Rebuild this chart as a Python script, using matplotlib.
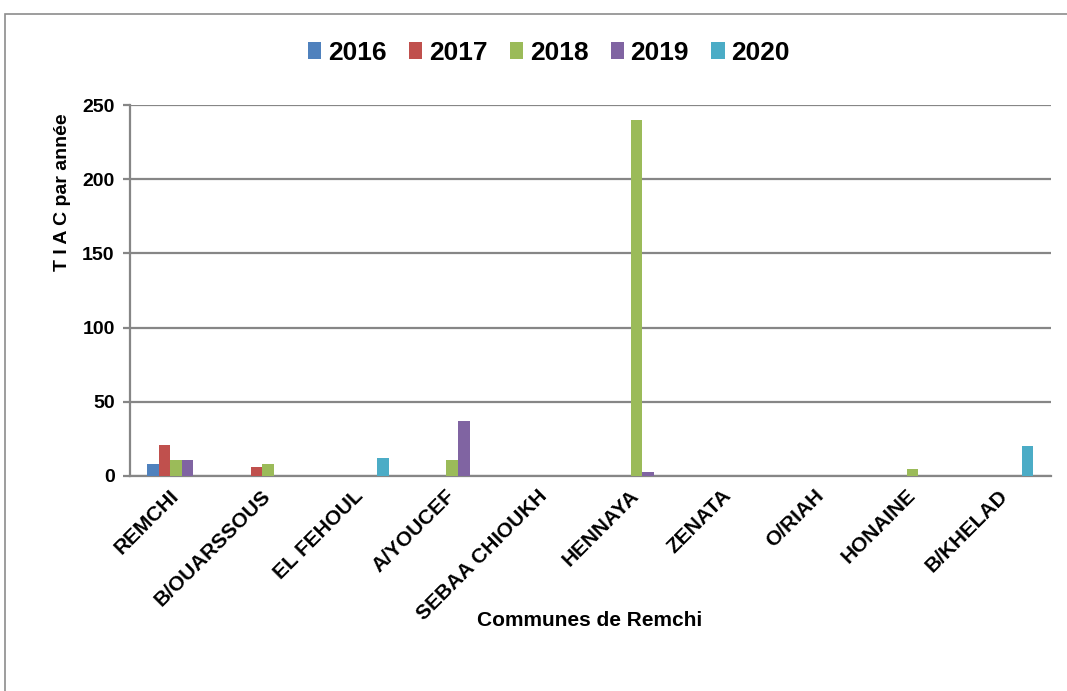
import matplotlib
matplotlib.use("Agg")
import matplotlib.pyplot as plt
from matplotlib.patches import Rectangle
import numpy as np

plt.rcParams['font.family'] = ['Liberation Sans', 'DejaVu Sans']
plt.rcParams['font.weight'] = 'bold'

communes = ["REMCHI", "B/OUARSSOUS", "EL FEHOUL", "A/YOUCEF", "SEBAA CHIOUKH",
            "HENNAYA", "ZENATA", "O/RIAH", "HONAINE", "B/KHELAD"]
years = ["2016", "2017", "2018", "2019", "2020"]

tiac_2016 = [8, 0, 0, 0, 0, 0, 0, 0, 0, 0]
tiac_2017 = [21, 6, 0, 0, 0, 0, 0, 0, 0, 0]
tiac_2018 = [11, 8, 0, 11, 0, 240, 0, 0, 5, 0]
tiac_2019 = [11, 0, 0, 37, 0, 3, 0, 0, 0, 0]
tiac_2020 = [0, 0, 12, 0, 0, 0, 0, 0, 0, 20]

series = [tiac_2016, tiac_2017, tiac_2018, tiac_2019, tiac_2020]
colors = ["#4F81BD", "#C0504D", "#9BBB59", "#8064A2", "#4BACC6"]

W, H = 1067, 691
fig = plt.figure(figsize=(W / 100, H / 100), dpi=100)

# outer chart frame
fig.patches.append(Rectangle((5 / W, -0.01), 1.02, 1 - 14 / H + 0.01,
                             transform=fig.transFigure, fill=False,
                             edgecolor="#8c8c8c", linewidth=1.2))

ax = fig.add_axes([130 / W, 1 - 476 / H, (1050.7 - 130) / W, (476 - 105) / H])

x = np.arange(len(communes))
bw = 0.125
for j, (vals, col, yr) in enumerate(zip(series, colors, years)):
    ax.bar(x + (j - 2) * bw, vals, width=bw, color=col, label=yr,
           edgecolor="none", zorder=3)

grid_col = "#868686"
ax.set_xlim(-0.5, len(communes) - 0.5)
ax.set_ylim(0, 250)
ax.set_yticks(np.arange(0, 251, 50))
ax.yaxis.grid(True, color=grid_col, linewidth=1.6, zorder=0)
ax.set_axisbelow(True)

for s in ["top", "right"]:
    ax.spines[s].set_visible(False)
for s in ["left", "bottom"]:
    ax.spines[s].set_color(grid_col)
    ax.spines[s].set_linewidth(1.6)

ax.tick_params(axis="y", length=5, width=1.6, color=grid_col, labelsize=14, pad=6)
ax.tick_params(axis="x", length=0, pad=12)
ax.set_xticks(x)
ax.set_xticklabels(communes, rotation=45, ha="right", va="center",
                   rotation_mode="anchor", fontsize=15, fontweight="bold")
for lab in ax.get_yticklabels():
    lab.set_fontweight("bold")

ax.set_ylabel("T I A C par année", fontsize=14, fontweight="bold",
              va="center", ha="center")
ax.yaxis.set_label_coords(-0.0728, 0.766)
fig.text(590 / W, 1 - 621 / H, "Communes de Remchi", ha="center", va="center",
         fontsize=15, fontweight="bold")

fig.legend(loc="center", bbox_to_anchor=(549 / W, 1 - 53 / H), ncol=5,
           frameon=False, prop={"size": 19, "weight": "bold"},
           handlelength=0.5, handleheight=0.6, handletextpad=0.25,
           columnspacing=0.85, borderpad=0)

fig.savefig("out.png", dpi=100)
